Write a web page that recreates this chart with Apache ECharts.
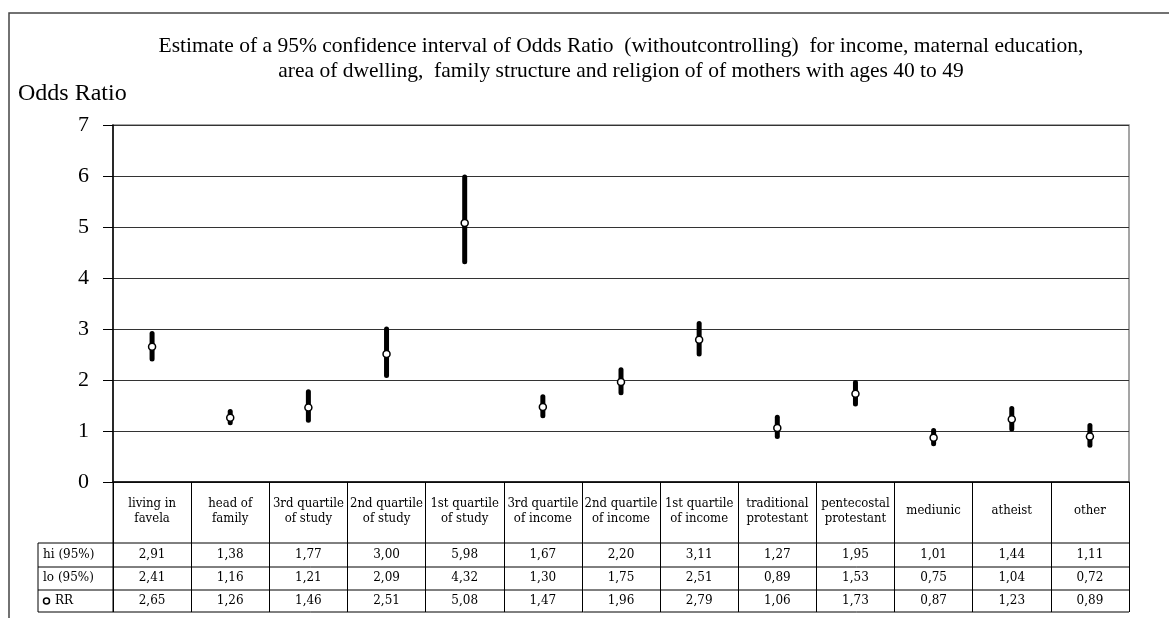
<!DOCTYPE html>
<html>
<head>
<meta charset="utf-8">
<script src="https://cdn.jsdelivr.net/npm/echarts@6/dist/echarts.min.js"></script>
<style>
  html, body { margin: 0; padding: 0; background: #fff; }
  #chart { width: 1169px; height: 618px; }
</style>
</head>
<body>
<div id="chart"></div>
<script>
// Groups compared against their reference category
const categories = [
  'living in\nfavela', 'head of\nfamily',
  '3rd quartile\nof study', '2nd quartile\nof study', '1st quartile\nof study',
  '3rd quartile\nof income', '2nd quartile\nof income', '1st quartile\nof income',
  'traditional\nprotestant', 'pentecostal\nprotestant',
  'mediunic', 'atheist', 'other'
];
// Upper and lower 95% limits and the point estimate
const hiValues = [2.91, 1.38, 1.77, 3.00, 5.98, 1.67, 2.20, 3.11, 1.27, 1.95, 1.01, 1.44, 1.11];
const loValues = [2.41, 1.16, 1.21, 2.09, 4.32, 1.30, 1.75, 2.51, 0.89, 1.53, 0.75, 1.04, 0.72];
const rrValues = [2.65, 1.26, 1.46, 2.51, 5.08, 1.47, 1.96, 2.79, 1.06, 1.73, 0.87, 1.23, 0.89];
const yTicks = [0, 1, 2, 3, 4, 5, 6, 7];
const rowLabels = ['hi (95%)', 'lo (95%)', 'RR'];

const titleText = 'Estimate of a 95% confidence interval of Odds Ratio  (withoutcontrolling)  for income, maternal education,\n' +
  'area of dwelling,  family structure and religion of of mothers with ages 40 to 49';

// layout of the plot and the data table under it
const W = 1169, H = 618;
const G = { left: 113, right: 40, top: 125, bottom: 136 };
const axisY = H - G.bottom;               // y of the category axis (value 0)
const plotRight = W - G.right;
const tableLeft = 38;
const rowLines = [543, 567, 590, 612];     // horizontal rules of the value rows
const rowCenters = [555, 578, 601];
const serif = '"Liberation Serif", "Times New Roman", serif';
const headFont = '"DejaVu Serif Condensed", "DejaVu Serif", serif';
const cellFont = '"DejaVu Serif", serif';

const fmt = v => v.toFixed(2).replace('.', ',');

function rowAxis(values, center) {
  return {
    type: 'category', data: categories, gridIndex: 0, position: 'bottom',
    offset: center - axisY,
    axisLine: { show: false }, axisTick: { show: false }, splitLine: { show: false },
    axisLabel: {
      interval: 0, margin: 0, verticalAlign: 'middle',
      fontFamily: cellFont, fontSize: 12, color: '#000',
      formatter: (val, idx) => fmt(values[idx])
    }
  };
}

const graphics = [];
// outer frame (top and left edges)
graphics.push({ type: 'polyline', shape: { points: [[9, H], [9, 13], [W, 13]] },
  style: { stroke: '#444', lineWidth: 1.5, fill: null }, silent: true });
// table rules
rowLines.forEach(y => graphics.push({ type: 'line',
  shape: { x1: tableLeft, y1: y, x2: plotRight, y2: y },
  style: { stroke: '#000', lineWidth: 1 }, silent: true }));
graphics.push({ type: 'line', shape: { x1: tableLeft, y1: rowLines[0], x2: tableLeft, y2: rowLines[3] },
  style: { stroke: '#000', lineWidth: 1 }, silent: true });
graphics.push({ type: 'line', shape: { x1: G.left, y1: axisY, x2: G.left, y2: rowLines[3] },
  style: { stroke: '#000', lineWidth: 1 }, silent: true });
// row headers
graphics.push({ type: 'text', x: 43, y: rowCenters[0],
  style: { text: rowLabels[0], font: '12px ' + cellFont, fill: '#000', textVerticalAlign: 'middle' } });
graphics.push({ type: 'text', x: 43, y: rowCenters[1],
  style: { text: rowLabels[1], font: '12px ' + cellFont, fill: '#000', textVerticalAlign: 'middle' } });
graphics.push({ type: 'circle', shape: { cx: 46.5, cy: rowCenters[2], r: 3 },
  style: { fill: '#fff', stroke: '#000', lineWidth: 1.5 } });
graphics.push({ type: 'text', x: 55, y: rowCenters[2],
  style: { text: rowLabels[2], font: '12px ' + cellFont, fill: '#000', textVerticalAlign: 'middle' } });
// y axis caption
graphics.push({ type: 'text', x: 18, y: 94,
  style: { text: 'Odds Ratio', font: '24px ' + serif, fill: '#000', textVerticalAlign: 'middle' } });

const chart = echarts.init(document.getElementById('chart'), null, { renderer: 'canvas' });
chart.setOption({
  animation: false,
  backgroundColor: '#fff',
  title: {
    text: titleText, left: 616, top: 29, textAlign: 'center',
    textStyle: { fontFamily: serif, fontSize: 21.5, fontWeight: 'normal', color: '#000', lineHeight: 25 }
  },
  grid: {
    left: G.left, right: G.right, top: G.top, bottom: G.bottom,
    containLabel: false, outerBoundsMode: 'none',
    show: true, borderColor: '#888', borderWidth: 1.5
  },
  xAxis: [
    {
      type: 'category', data: categories, position: 'bottom', boundaryGap: true,
      axisLine: { show: true, lineStyle: { color: '#000', width: 1.5 } },
      axisTick: { show: true, interval: 0, alignWithLabel: false, length: rowLines[3] - axisY,
        lineStyle: { color: '#000', width: 1 } },
      splitLine: { show: false },
      axisLabel: { interval: 0, margin: 29, verticalAlign: 'middle', lineHeight: 15,
        fontFamily: headFont, fontSize: 13, color: '#000' }
    },
    rowAxis(hiValues, rowCenters[0]),
    rowAxis(loValues, rowCenters[1]),
    rowAxis(rrValues, rowCenters[2])
  ],
  yAxis: {
    type: 'value', min: yTicks[0], max: yTicks[yTicks.length - 1], interval: 1,
    axisLine: { show: true, lineStyle: { color: '#000', width: 1.5 } },
    axisTick: { show: true, length: 10, lineStyle: { color: '#000' } },
    splitLine: { show: true, lineStyle: { color: '#333', width: 1 } },
    axisLabel: { fontFamily: serif, fontSize: 22, color: '#000', margin: 24 }
  },
  graphic: graphics,
  series: [
    {
      type: 'custom', name: '95% CI', z: 2,
      data: categories.map((c, i) => [i, loValues[i], hiValues[i]]),
      renderItem: (params, api) => {
        const p1 = api.coord([api.value(0), api.value(1)]);
        const p2 = api.coord([api.value(0), api.value(2)]);
        return { type: 'line', shape: { x1: p1[0], y1: p1[1], x2: p2[0], y2: p2[1] },
          style: { stroke: '#000', lineWidth: 5, lineCap: 'round' } };
      }
    },
    {
      type: 'scatter', name: 'RR', z: 3,
      data: rrValues, symbol: 'circle', symbolSize: 7,
      itemStyle: { color: '#fff', borderColor: '#000', borderWidth: 1.5, opacity: 1 }
    }
  ]
});
</script>
</body>
</html>
